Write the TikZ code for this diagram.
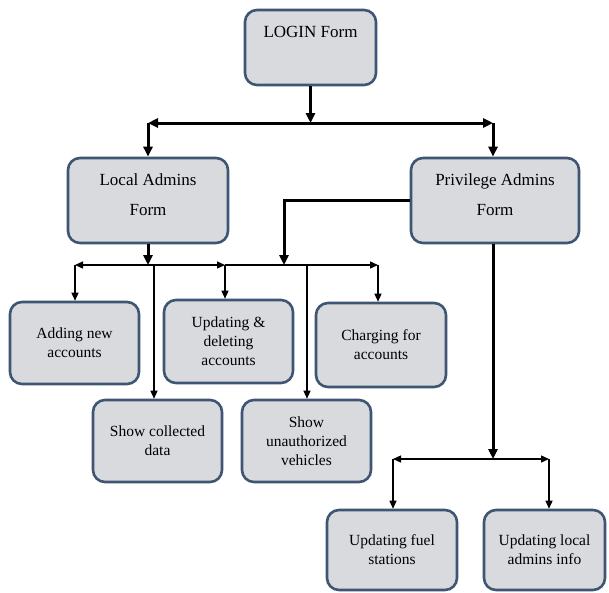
\documentclass[tikz,border=0pt]{standalone}
\usepackage{fontspec}
\setmainfont{Liberation Serif}
\newfontfamily\boxserif{Liberation Serif}
\usetikzlibrary{arrows.meta}
\definecolor{boxfill}{RGB}{216,218,222}
\definecolor{boxedge}{RGB}{62,86,116}
\begin{document}
\begin{tikzpicture}[x=1pt,y=-1pt,
  box/.style={draw=boxedge, fill=boxfill, line width=2.6pt, rounded corners=12pt,
    inner sep=0pt, align=center, font=\boxserif\fontsize{15.5}{19}\selectfont},
  topbox/.style={box, font=\boxserif\fontsize{17}{30}\selectfont},
  thickarr/.style={line width=3pt, -{Triangle[length=10pt,width=9pt]}},
  thickline/.style={line width=3pt},
  thinarr/.style={line width=1.3pt, -{Triangle[length=8pt,width=7pt]}},
  thinline/.style={line width=1.3pt}]
\useasboundingbox (0,0) rectangle (609,592);
\fill[white] (0,0) rectangle (609,592);

% boxes
\node[topbox, minimum width=131pt, minimum height=75pt] (login) at (310.5,47.5)
  {\raisebox{10pt}[0pt][0pt]{LOGIN Form}};
\node[topbox, minimum width=160pt, minimum height=85pt] (local) at (148,200.5)
  {\raisebox{-15pt}[0pt][0pt]{\begin{tabular}[b]{@{}c@{}}Local Admins\\Form\end{tabular}}};
\node[topbox, minimum width=168pt, minimum height=85pt] (priv) at (495,200.5)
  {\raisebox{-15pt}[0pt][0pt]{\begin{tabular}[b]{@{}c@{}}Privilege Admins\\Form\end{tabular}}};

\node[box, minimum width=129pt, minimum height=82pt] (adding) at (74.5,343) {Adding new\\accounts};
\node[box, minimum width=129pt, minimum height=83pt] (updating) at (228.5,341.5) {Updating \&\\deleting\\accounts};
\node[box, minimum width=130pt, minimum height=84pt] (charging) at (381,345) {Charging for\\accounts};
\node[box, minimum width=129pt, minimum height=82pt] (showcol) at (157.5,441) {Show collected\\data};
\node[box, minimum width=129pt, minimum height=82pt] (showun) at (306.5,441) {Show\\unauthorized\\vehicles};
\node[box, minimum width=130pt, minimum height=80pt] (fuel) at (392,550) {Updating fuel\\stations};
\node[box, minimum width=121pt, minimum height=80pt] (linfo) at (544.5,550) {Updating local\\admins info};

% junction points
\coordinate (j1) at (310.5,123);
\coordinate (j1l) at (148,123);
\coordinate (j1r) at (493,123);
\coordinate (j2) at (148,265);
\coordinate (j2a) at (75,265);
\coordinate (j2b) at (154,265);
\coordinate (j2c) at (225,265);
\coordinate (j2d) at (284,265);
\coordinate (j2e) at (307,265);
\coordinate (j2f) at (378,265);
\coordinate (j3) at (493,459);
\coordinate (j3a) at (393,459);
\coordinate (j3b) at (549,459);

% login to admins
\draw[thickarr] (login.south) -- (j1);
\draw[thickarr] (j1) -- (j1l);
\draw[thickarr] (j1) -- (j1r);
\draw[thickarr] (j1l) -- (j1l |- local.north);
\draw[thickarr] (j1r) -- (j1r |- priv.north);

% local admins branch
\draw[thickarr] (local.south) -- (j2);
\draw[thinarr] (j2) -- (j2a);
\draw[thinarr] (j2a) -- (j2a |- adding.north);
\draw[thinarr] (j2) -- (j2c);
\draw[thinarr] (j2c) -- (j2c |- updating.north);
\draw[thinline] (j2c) -- (j2d);
\draw[thinarr] (j2d) -- (j2f);
\draw[thinarr] (j2f) -- (j2f |- charging.north);
\draw[thinarr] (j2b) -- (j2b |- showcol.north);
\draw[thinarr] (j2e) -- (j2e |- showun.north);

% privilege admins branch
\draw[thickarr] (priv.west) -- (priv.west -| j2d) -- (j2d);
\draw[thickarr] (j1r |- priv.south) -- (j3);
\draw[thinarr] (j3) -- (j3a);
\draw[thinarr] (j3a) -- (j3a |- fuel.north);
\draw[thinarr] (j3) -- (j3b);
\draw[thinarr] (j3b) -- (j3b |- linfo.north);
\end{tikzpicture}
\end{document}
